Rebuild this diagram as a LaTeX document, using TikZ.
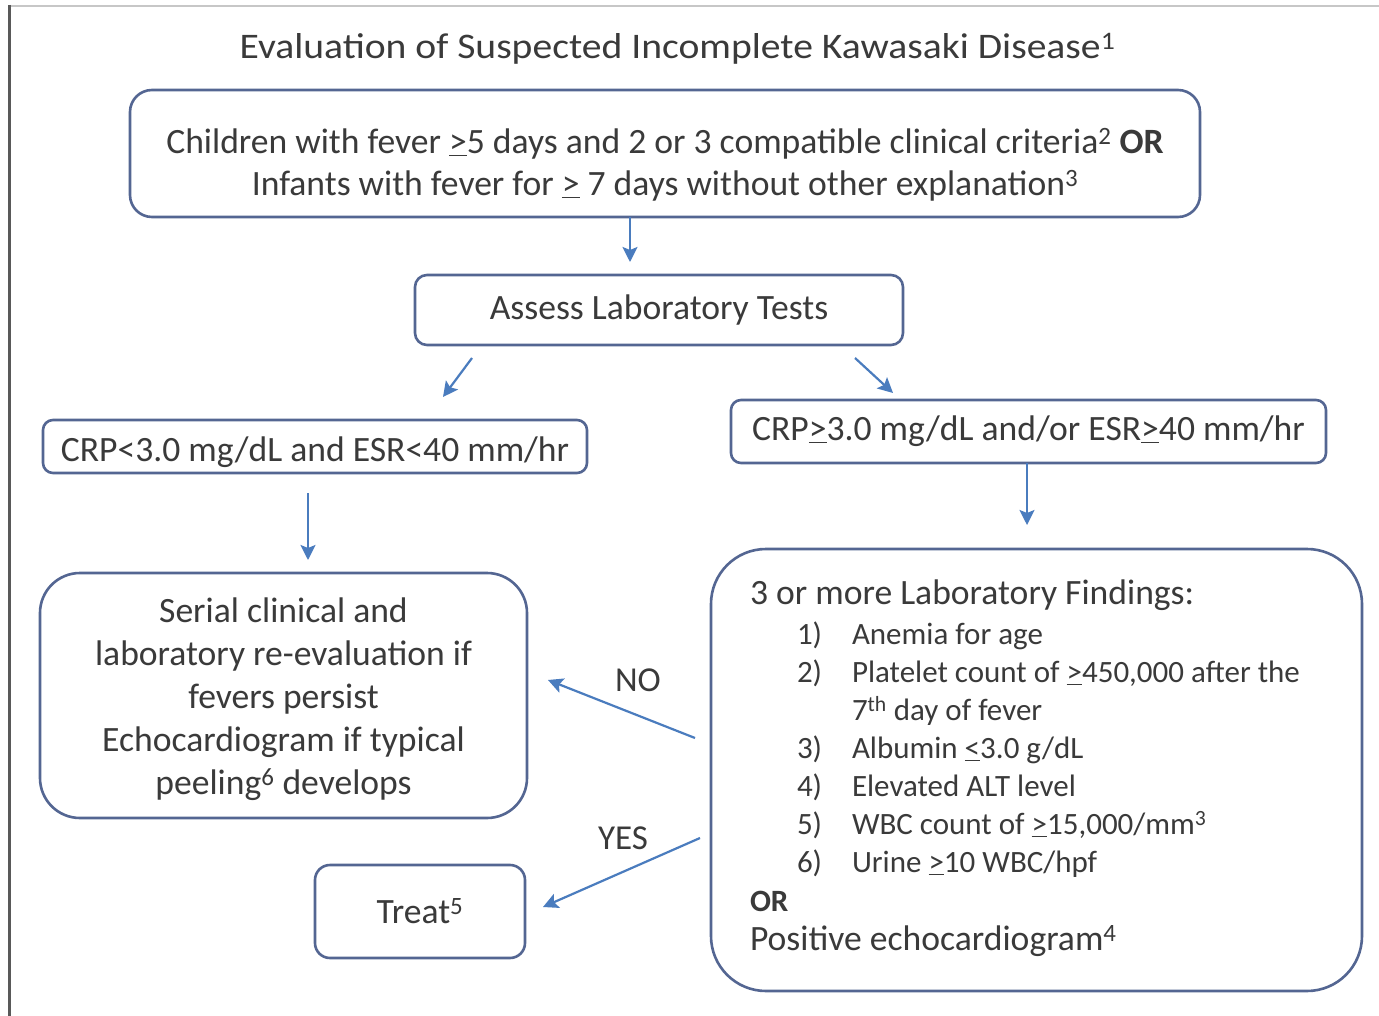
\documentclass[tikz,border=0pt]{standalone}
\usepackage{fontspec}
\usepackage{graphicx}
\setmainfont{Carlito}
\usetikzlibrary{arrows.meta}
\definecolor{boxc}{RGB}{84,102,146}
\definecolor{arrc}{RGB}{74,124,190}
\definecolor{txt}{RGB}{58,58,58}
\newcommand\geu{\underline{>}}
\newcommand\leu{\underline{<}}
\newcommand\lift[1]{\rule{0pt}{#1}}
\tikzset{
  box/.style={draw=boxc, line width=2.6pt, fill=white, align=center, text=txt, inner sep=0pt,
    font=\fontsize{35.6}{42}\selectfont},
  arr/.style={draw=arrc, line width=2.2pt, -{Stealth[length=15pt,width=15pt,inset=3pt]}},
  lbl/.style={text=txt, font=\fontsize{35}{42}\selectfont},
}
\begin{document}
\begin{tikzpicture}[x=1pt,y=-1pt]
\useasboundingbox (0,0) rectangle (1379,1016);
\fill[white] (0,0) rectangle (1379,1016);
% frame
\draw[line width=2pt, draw=black!22] (9,6) -- (1379,6);
\draw[line width=3pt, draw=black!65] (9,5) -- (9,1016);
% title
\node[lbl, font=\fontsize{36}{42}\selectfont] (title) at (677.5,49)
  {\scalebox{1.1}[1]{Evaluation of Suspected Incomplete Kawasaki Disease\textsuperscript{1}}};
% boxes
\node[box, rounded corners=22pt, minimum width=1070pt, minimum height=127pt] (top) at (665,153.5)
  {\lift{48pt}Children with fever \geu5 days and 2 or 3 compatible clinical criteria\textsuperscript{2} \textbf{OR}\\
   Infants with fever for \geu\ 7 days without other explanation\textsuperscript{3}};
\node[box, rounded corners=12pt, minimum width=488pt, minimum height=70pt] (assess) at (659,310)
  {Assess Laboratory Tests};
\node[box, rounded corners=10pt, minimum width=544pt, minimum height=53pt] (crpl) at (315,446.5)
  {\lift{36pt}CRP<3.0 mg/dL and ESR<40 mm/hr};
\node[box, rounded corners=10pt, minimum width=595pt, minimum height=63pt] (crpg) at (1028.5,431.5)
  {CRP\geu3.0 mg/dL and/or ESR\geu40 mm/hr};
\node[box, rounded corners=40pt, minimum width=487pt, minimum height=245pt, font=\fontsize{35.6}{43}\selectfont] (serial) at (283.5,695.5)
  {\lift{31.5pt}Serial clinical and\\laboratory re-evaluation if\\fevers persist\\Echocardiogram if typical\\peeling\textsuperscript{6} develops};
\node[box, rounded corners=15pt, minimum width=210pt, minimum height=93pt] (treat) at (420,911.5)
  {Treat\textsuperscript{5}};
\node[box, rounded corners=55pt, minimum width=651pt, minimum height=442pt, text width=573pt, inner xsep=39pt, align=left] (lab) at (1036.5,770)
  {\spaceskip=0pt\relax\xspaceskip=0pt\relax
   \fontsize{31}{38}\selectfont
   \begin{tabular}{@{}l@{}}
   {\fontsize{35.6}{42}\selectfont 3 or more Laboratory Findings:}\\[2pt]
   \hspace*{47pt}\makebox[55pt][l]{1)}Anemia for age\\
   \hspace*{47pt}\makebox[55pt][l]{2)}Platelet count of \geu450,000 after the\\
   \hspace*{102pt}7\textsuperscript{th} day of fever\\
   \hspace*{47pt}\makebox[55pt][l]{3)}Albumin \leu3.0 g/dL\\
   \hspace*{47pt}\makebox[55pt][l]{4)}Elevated ALT level\\
   \hspace*{47pt}\makebox[55pt][l]{5)}WBC count of \geu15,000/mm\textsuperscript{3}\\
   \hspace*{47pt}\makebox[55pt][l]{6)}Urine \geu10 WBC/hpf\\[1pt]
   \textbf{OR}\\[1pt]
   {\fontsize{35.6}{42}\selectfont Positive echocardiogram\textsuperscript{4}}
   \end{tabular}};
% connector end points
\coordinate (a1s) at (630,217);  \coordinate (a1e) at (630,262);
\coordinate (a2s) at (472,358);  \coordinate (a2e) at (443,397);
\coordinate (a3s) at (855,358);  \coordinate (a3e) at (893,393);
\coordinate (a4s) at (308,493);  \coordinate (a4e) at (308,560);
\coordinate (a5s) at (1027,463); \coordinate (a5e) at (1027,525);
\coordinate (nos) at (695,738);  \coordinate (noe) at (548,680);
\coordinate (yess) at (700,838); \coordinate (yese) at (543,907);
% connectors
\draw[arr] (a1s) -- (a1e);
\draw[arr] (a2s) -- (a2e);
\draw[arr] (a3s) -- (a3e);
\draw[arr] (a4s) -- (a4e);
\draw[arr] (a5s) -- (a5e);
\draw[arr] (nos) -- (noe);
\draw[arr] (yess) -- (yese);
\node[lbl] (no) at (638,680) {NO};
\node[lbl] (yes) at (623,838) {YES};
\end{tikzpicture}
\end{document}
